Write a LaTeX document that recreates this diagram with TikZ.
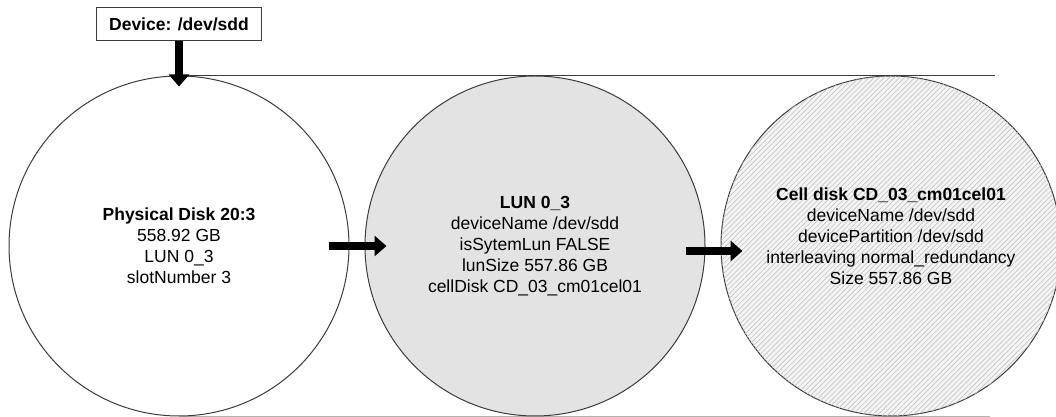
\documentclass[tikz,border=0pt]{standalone}
\usepackage{fontspec}
\setmainfont{Liberation Sans}
\usepackage{tikz}
\usetikzlibrary{arrows.meta, positioning, patterns.meta, calc}
\usepackage{xcolor}
\definecolor{DiskLine}{HTML}{3C3C3C}
\definecolor{LunFill}{HTML}{E3E3E3}
\definecolor{HatchLine}{HTML}{C4C4C4}
\definecolor{CellFill}{HTML}{F4F4F4}
\tikzset{
  disk/.style={circle, draw=DiskLine, line width=1pt, minimum size=340pt,
    inner sep=0pt, fill=white},
  lunbox/.style={disk, fill=LunFill},
  cellbox/.style={disk, fill=CellFill,
    postaction={pattern={Lines[angle=45, distance=3.6pt, line width=0.65pt]},
      pattern color=HatchLine}},
  info/.style={align=center, font=\fontsize{17.5}{21}\selectfont, inner sep=0pt},
  devbox/.style={draw=DiskLine, line width=1pt, fill=white, minimum width=165pt,
    minimum height=33pt, inner sep=2pt, font=\fontsize{17.5}{21}\selectfont\bfseries},
  flow/.style={-{Triangle[length=12pt, width=20pt]}, line width=8pt, draw=black},
  rule/.style={line width=1pt, draw=DiskLine},
}
\begin{document}
\begin{tikzpicture}[x=1pt, y=1pt, node distance=15pt]
  \useasboundingbox (0,0) rectangle (1056,417);
  \draw[rule] (179,341) -- (995,341);
  \draw[rule, draw=gray!60] (179,0.8) -- (990,0.8);
  \node[disk] (pd) at (179,171) {};
  \node[lunbox, right=of pd] (lun) {};
  \node[cellbox, right=of lun] (cd) {};
  \node[devbox, above=34pt of pd] (dev) {Device: /dev/sdd};
  \node[info] (pdtext) at (pd.center)
    {\textbf{Physical Disk 20:3}\\558.92 GB\\LUN 0\_3\\slotNumber 3};
  \node[info] (luntext) at (lun.center)
    {\textbf{LUN 0\_3}\\deviceName /dev/sdd\\isSytemLun FALSE\\lunSize 557.86 GB\\cellDisk CD\_03\_cm01cel01};
  \node[info] (cdtext) at ([yshift=10pt]cd.center)
    {\textbf{Cell disk CD\_03\_cm01cel01}\\deviceName /dev/sdd\\devicePartition /dev/sdd\\interleaving normal\_redundancy\\Size 557.86 GB};
  \draw[flow] (dev.south) -- ([yshift=-11pt]pd.north);
  \draw[flow] ([xshift=-21pt]pd.east) -- ([xshift=22pt]lun.west);
  \draw[flow] ([xshift=-20pt, yshift=-5pt]lun.east) -- ([xshift=22pt, yshift=-5pt]cd.west);
\end{tikzpicture}
\end{document}
